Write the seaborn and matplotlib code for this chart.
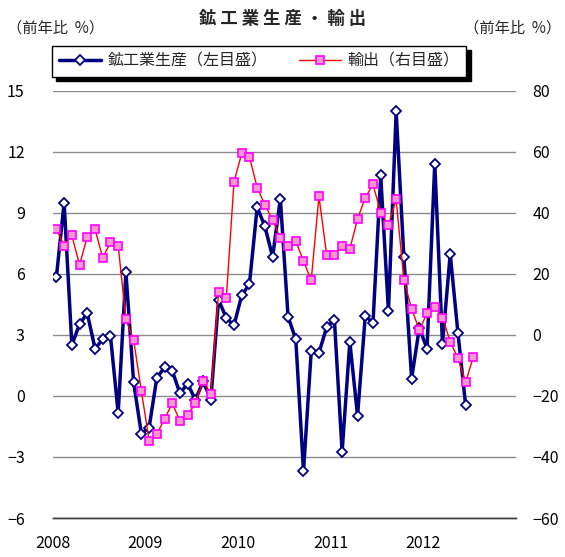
import matplotlib
matplotlib.use('Agg')
import matplotlib.pyplot as plt
import seaborn as sns
import numpy as np
import pandas as pd

# ── data (month index 0 = Jan 2008) ──
production = [5.85, 9.50, 2.49, 3.54, 4.06, 2.33, 2.78, 2.95, -0.84, 6.09, 0.67, -1.85,
              -1.57, 0.88, 1.41, 1.24, 0.13, 0.61, -0.20, 0.72, -0.18, 4.73, 3.83, 3.47,
              4.95, 5.50, 9.27, 8.34, 6.83, 9.70, 3.90, 2.78, -3.70, 2.19, 2.11, 3.39,
              3.75, -2.75, 2.65, -0.97, 3.93, 3.59, 10.84, 4.16, 13.99, 6.83, 0.85, 3.34,
              2.33, 11.42, 2.56, 6.98, 3.10, -0.46]
exports = [34.6, 29.3, 32.6, 22.9, 32.2, 34.6, 25.3, 30.3, 29.3, 5.1, -1.7, -18.3,
           -34.6, -32.5, -27.6, -22.4, -28.2, -26.2, -22.4, -15.0, -19.3, 14.0, 12.0, 50.2,
           59.5, 58.3, 48.3, 42.6, 37.7, 31.7, 29.1, 30.8, 24.2, 17.9, 45.4, 26.2,
           26.2, 29.3, 28.2, 38.0, 45.0, 49.3, 40.1, 36.0, 44.4, 17.9, 8.6, 1.6,
           7.1, 9.1, 5.7, -2.2, -7.6, -15.5, -7.1]
year_labels = ['2008', '2009', '2010', '2011', '2012', '']
left_ticks = [-6, -3, 0, 3, 6, 9, 12, 15]
right_ticks = [-60, -40, -20, 0, 20, 40, 60, 80]

prod_df = pd.DataFrame({'month': np.arange(len(production)) + 0.5, 'value': production})
exp_df = pd.DataFrame({'month': np.arange(len(exports)) + 0.5, 'value': exports})

sns.set_style('white')
plt.rcParams['font.family'] = ['Noto Sans CJK JP', 'DejaVu Sans']

fig = plt.figure(figsize=(5.65, 5.57), dpi=100)
ax = fig.add_axes([0.093, 0.070, 0.820, 0.767])
ax2 = ax.twinx()

sns.lineplot(data=prod_df, x='month', y='value', ax=ax, sort=False, errorbar=None,
             color='#000080', linewidth=2.5, marker='D', markersize=5.5,
             markerfacecolor='white', markeredgecolor='#000080', markeredgewidth=1.3,
             zorder=3)
sns.lineplot(data=exp_df, x='month', y='value', ax=ax2, sort=False, errorbar=None,
             color='#FF0000', linewidth=1.0, marker='s', markersize=5.5,
             markerfacecolor='#FF99CC', markeredgecolor='#FF00FF', markeredgewidth=1.2,
             zorder=3)

ax.set_xlim(0, 60)
ax.set_ylim(-6, 15)
ax2.set_ylim(-60, 80)
ax.set_xticks(np.arange(0, 61, 12))
ax.set_xticklabels(year_labels)
ax.set_yticks(left_ticks)
ax.set_yticklabels([str(t).replace('-', '−') for t in left_ticks])
ax2.set_yticks(right_ticks)
ax2.set_yticklabels([str(t).replace('-', '−') for t in right_ticks])
ax.set_xlabel('')
ax.set_ylabel('')
ax2.set_ylabel('')

ax.yaxis.grid(True, color='#8c8c8c', linewidth=1.0)
ax.xaxis.grid(False)
ax.set_axisbelow(True)

for a in (ax, ax2):
    for side in ('left', 'right', 'top'):
        a.spines[side].set_visible(False)
    a.spines['bottom'].set_color('#404040')
    a.spines['bottom'].set_linewidth(1.0)

ax.tick_params(axis='x', direction='in', length=5, width=1, color='#404040',
               labelsize=11.5, pad=12, labelcolor='black')
ax.tick_params(axis='y', length=0, labelsize=11.5, pad=20, labelcolor='black')
ax2.tick_params(axis='y', length=0, labelsize=11.5, pad=12, labelcolor='black')

fig.text(0.5, 0.966, '鉱 工 業 生 産 ・ 輸 出', ha='center', va='center',
         fontsize=12.5, fontweight='bold')
fig.text(0.012, 0.950, '（前年比  %）', ha='left', va='center', fontsize=11)
fig.text(0.994, 0.950, '（前年比  %）', ha='right', va='center', fontsize=11)

handles = [ax.get_lines()[0], ax2.get_lines()[0]]
leg = fig.legend(handles, ['鉱工業生産（左目盛）', '輸出（右目盛）'],
                 loc='center', bbox_to_anchor=(0.459, 0.890), ncol=2,
                 fontsize=11.5, frameon=True, fancybox=False,
                 shadow={'color': 'black', 'alpha': 1.0, 'ox': 3, 'oy': -3},
                 edgecolor='black', handlelength=2.6, columnspacing=2.0,
                 handletextpad=0.4, borderpad=0.45)
leg.get_frame().set_linewidth(1.0)

fig.savefig('out.png', dpi=100, facecolor='white')
plt.close(fig)
